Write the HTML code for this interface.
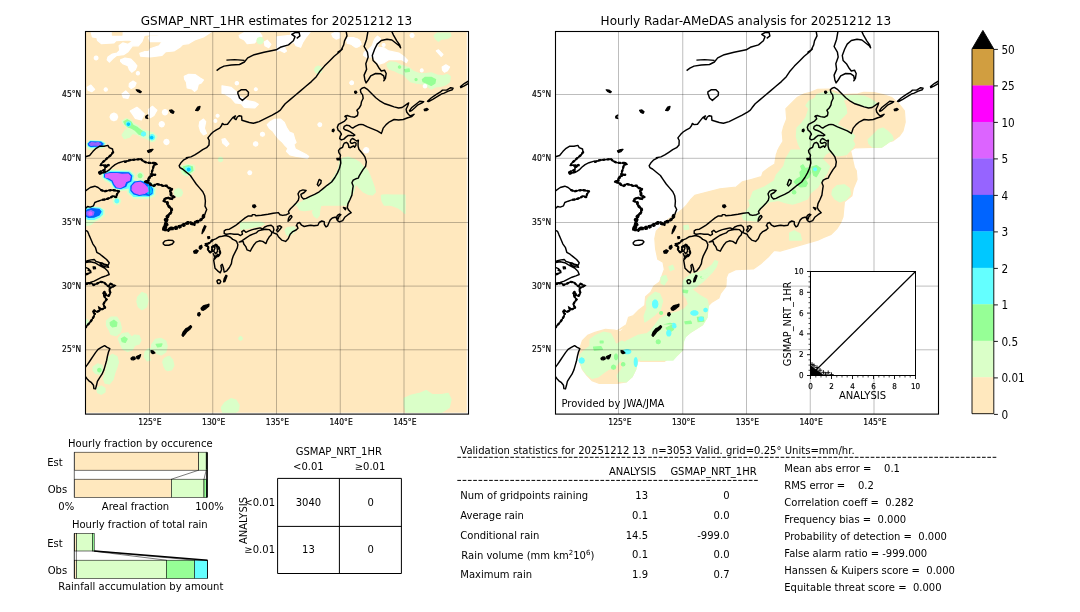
<!DOCTYPE html><html><head><meta charset="utf-8"><title>GSMAP_NRT_1HR validation 20251212 13</title>
<style>html,body{margin:0;padding:0;background:#fff}svg{display:block}text{font-family:'DejaVu Sans','Liberation Sans',sans-serif;fill:#000;white-space:pre}</style></head><body>
<svg width="1080" height="612" viewBox="0 0 1080 612">
<rect width="1080" height="612" fill="#fff"/>
<defs><g id="cst"><path d="M686.6,70.7 689.9,68.2 694.0,66.1 701.3,65.0 709.5,64.5 714.4,62.0 717.7,57.9 724.2,54.7 734.0,52.2 746.2,49.8 750.3,47.3 758.5,44.9 763.4,40.8 765.0,36.7 761.8,34.3 765.0,32.6 769.1,32.6 769.9,35.9 766.7,38.3M696.4,60.1 704.6,59.6 714.4,60.4M707.9,91.8 711.1,89.8 716.0,89.8 718.5,92.2 718.2,95.5 715.2,98.0 712.4,100.4 709.5,98.0 708.7,95.5 707.9,93.9ZM837.9,31.7 836.6,39.2 834.1,46.5 837.4,52.2 838.2,57.1 835.8,63.7 836.6,69.4 834.1,75.1 834.9,80.0 836.1,82.9 838.2,80.0 840.7,75.9 845.6,73.5 850.8,73.8 853.7,75.9 854.5,80.0 853.7,80.8 855.4,78.4 856.2,73.5 854.5,70.2 851.3,71.0 848.8,67.7 846.4,63.7 843.1,60.4 842.3,55.5 844.7,49.0 847.2,44.1 851.3,40.5 857.0,39.2 861.9,40.0 866.0,43.2 869.2,45.7 870.6,47.8 869.7,44.9 866.8,40.8 863.5,35.1 861.9,31.7M879.5,110.7 881.5,107.8 885.6,104.5 889.7,101.2 893.7,101.6 892.1,102.9 888.0,104.8 884.8,107.8 881.5,110.7 879.9,111.4ZM897.5,101.2 901.1,98.0 906.0,94.7 910.1,92.2 912.5,90.1 916.6,90.1 920.7,87.7 923.1,88.2 922.3,89.8 918.2,91.1 914.2,93.1 911.7,93.9 907.6,96.3 902.7,99.3 898.6,101.6ZM938.7,81.0 934.6,83.3 930.5,86.5 930.8,87.5 933.8,86.2 938.7,83.3M834.3,87.4 837.8,89.7 841.8,93.7 845.8,97.7 850.3,101.2 854.9,103.8 859.5,105.2 864.1,106.9 868.6,108.0 872.1,107.5 875.5,105.2 878.7,102.9 877.8,105.7 876.1,109.2 876.7,112.0 878.4,114.3 880.1,116.0 884.1,114.3 881.8,116.6 877.8,117.8 873.2,119.5 868.6,120.0 864.1,119.5 859.5,121.8 856.1,124.6 853.2,128.1 852.1,131.5 851.3,133.4 851.4,133.4 847.3,130.9 842.4,128.9 837.5,126.9 833.4,124.8 831.0,124.4 828.5,124.8 825.3,126.4 822.8,128.1 821.2,127.3 819.1,125.6 816.7,125.2 814.2,126.4 813.6,128.5 815.0,129.7 817.5,130.5 820.3,131.8 823.2,133.8 824.8,135.0 823.2,135.9 821.2,135.4 818.3,135.4 815.9,137.1 813.8,139.1 811.4,139.9 809.7,138.7 810.1,136.7 811.4,134.2 810.1,131.8 808.1,130.1 807.3,127.3 808.5,124.4 811.4,122.8 814.6,121.1 816.7,118.7 815.4,115.8 814.9,116.6 817.2,115.5 820.6,116.6 824.6,117.2 827.5,115.5 828.0,112.6 826.9,110.3 829.2,108.0 830.9,105.2 831.5,101.7 833.2,98.3 832.6,94.9 830.9,92.6 830.3,89.7 832.0,88.2ZM789.2,179.4 791.2,180.7 790.8,183.3 788.6,185.9 787.3,184.6 788.2,182.0ZM761.1,215.4 762.0,216.9 759.8,219.9 758.1,221.2 758.5,218.6 759.4,216.7ZM747.4,226.4 750.0,225.8 751.7,227.0 750.0,229.2 747.8,231.9 746.5,230.3 748.2,228.3ZM709.2,242.1 711.8,240.8 715.8,238.1 719.7,235.5 722.9,234.2 726.2,232.9 728.2,230.9 731.4,230.0 735.4,229.2 739.3,229.6 741.9,232.3 741.2,234.9 739.3,236.8 737.3,240.1 736.0,243.6 732.7,241.4 729.5,240.8 726.2,242.1 723.6,245.3 721.6,248.6 720.3,251.2 717.1,249.9 715.8,246.6 713.8,244.0 713.1,241.4ZM695.5,235.5 692.2,236.2 689.0,236.8 685.7,238.8 682.4,240.1 679.8,242.7 677.2,244.0 675.9,245.3 678.5,246.6 677.8,249.9 680.5,252.5 682.4,251.2 681.8,247.3 685.7,244.7 688.3,246.6 689.6,249.9 690.3,253.8 687.6,256.4 685.0,257.7 683.7,260.4 684.4,264.3 685.0,268.2 687.6,270.8 690.3,272.8 691.6,269.5 690.9,265.6 692.2,264.3 693.5,268.2 694.2,272.1 696.8,270.8 699.4,267.5 701.4,263.6 702.0,259.7 703.3,255.8 705.3,251.9 707.3,247.9 707.9,244.7 706.6,241.4 704.6,240.1 702.7,239.4 700.7,237.5 698.1,236.2ZM683.1,245.3 685.0,247.9 683.7,251.2 685.7,253.8 687.6,251.2 687.0,247.3 685.4,246.0M683.1,253.2 684.4,256.4 686.3,255.8 688.3,253.8M633.2,242.7 634.9,240.9 638.8,240.1 642.7,240.5 644.0,241.9 642.3,244.0 638.8,245.3 634.9,245.3 633.3,244.0ZM686.9,281.0 688.1,279.7 689.9,280.0 690.8,281.7 689.8,283.4 687.8,283.4ZM570.0,263.4 573.3,264.1 577.9,266.0 578.5,267.3 575.9,266.9 572.0,265.4ZM555.5,267.3 558.3,268.6 560.9,271.2 559.6,273.2 557.0,274.5 555.5,274.8M557.6,270.0 560.2,271.0 560.9,272.6 558.3,273.3 555.5,273.9M816.2,31.7 817.0,35.9 814.5,40.8 813.7,44.9 811.3,49.8 808.0,52.2 812.4,49.0 809.1,52.2 804.2,56.3 799.3,61.2 794.4,66.1 789.5,71.8 786.3,76.7 781.4,81.6 775.6,86.5 769.9,91.4 765.0,95.5 760.1,99.6 755.2,103.7 752.0,107.8 750.3,110.2 747.9,111.8 742.2,115.1 735.6,118.4 729.1,121.6 723.4,123.3 719.3,122.5 715.2,121.2 711.9,120.3 711.6,116.3 709.3,115.7 707.3,117.0 706.0,119.6 704.1,118.3 705.4,115.9 702.7,117.6 700.1,120.9 697.5,124.2 694.2,124.6 692.3,123.5 691.6,125.5 689.7,128.1 686.4,129.8 683.1,132.0 680.5,134.6 677.9,137.9 679.2,140.5 679.0,145.1 676.6,147.7 672.7,149.7 668.8,152.3 664.8,154.9 660.9,156.9 656.3,157.8 657.7,157.8 653.8,159.8 651.2,162.4 649.2,165.7 649.9,167.6 652.5,169.0 656.4,172.2 660.4,175.5 663.0,179.4 666.2,184.0 669.5,187.9 672.8,191.8 674.7,195.8 675.4,201.0 675.0,206.2 676.7,209.5 675.4,212.7 674.1,216.7 671.5,219.9 668.2,221.2 664.9,221.9 664.9,221.5 664.3,224.2 661.7,222.8 657.7,222.2 654.5,224.2 651.2,225.5 647.3,227.4 643.4,228.1 640.1,227.4 638.1,230.0 634.9,228.7 632.9,229.4 634.2,226.1 635.5,222.8 634.9,227.8 636.8,225.2 635.5,222.5 636.8,219.3 637.5,216.0 639.4,214.1 641.4,210.8 640.8,208.2 638.1,206.2 636.8,202.3 633.6,201.0 634.2,199.0 637.5,197.7 641.4,199.0 643.4,197.1 640.8,195.1 640.1,191.2 641.4,188.6 638.1,187.9 636.2,185.6 632.9,185.9 629.6,184.6 626.4,184.2 623.1,185.9 620.5,184.6 618.5,182.7 614.6,181.8 617.9,180.7 619.2,176.8 622.5,175.5 625.7,174.6 621.1,174.2 621.8,172.2 623.1,168.3 623.8,165.0 626.4,164.1 625.7,162.8 621.1,163.1 615.9,162.4 613.3,161.1 610.7,158.9 608.1,159.4 602.8,159.8 598.9,160.5 595.0,161.8 594.2,161.1 589.0,162.7 585.1,164.6 581.8,167.3 579.2,169.9 576.6,171.6 573.3,172.5 569.4,173.8 568.7,172.5 571.3,171.2 574.6,169.9 575.3,167.3 579.2,165.0 574.6,165.6 570.9,165.0 572.0,162.7 574.6,160.7 577.2,158.1 580.5,155.5 583.1,152.2 582.5,149.0 579.2,147.6 577.9,145.4 574.0,146.3 569.4,146.3 566.1,148.3 562.8,151.6 559.6,155.5 555.5,156.8M555.5,190.8 560.2,187.5 564.8,186.2 568.1,187.5 571.3,190.1 574.6,191.4 578.5,190.4 582.5,190.1 587.0,190.8 589.0,191.4 587.0,194.1 586.4,197.3 583.1,196.0 579.8,198.0 575.9,199.3 572.0,199.9 568.1,201.2 564.8,202.5 563.5,205.8 560.2,207.1 557.6,206.5 555.5,208.4M555.5,230.3 557.6,231.4 558.9,234.6 560.9,239.2 562.8,243.8 565.5,247.7 566.8,252.3 570.0,254.2 573.3,256.9 576.6,259.5 579.2,262.7 578.3,265.1 574.6,264.3 572.0,263.0 569.4,262.5 566.1,261.4 564.2,259.5 560.9,259.9 557.6,260.8 555.5,261.4M555.5,262.5 560.2,261.7 564.8,262.7 568.1,264.7 570.7,266.0 574.6,268.0 577.9,271.2 579.2,274.5 575.9,275.9 572.0,277.2 568.1,279.2 564.2,281.1 560.2,282.4 555.5,283.1M555.5,284.1 561.5,283.1 563.5,285.0 566.8,283.7 570.7,281.8 574.0,282.4 576.6,285.0 578.5,286.3 580.5,283.7 584.4,285.7 582.5,287.0 580.5,287.6 579.2,289.6 580.5,292.9 578.5,296.1 575.9,294.8 574.6,291.6 573.3,293.5 574.6,296.8 576.6,299.4 574.6,302.0 573.3,304.6 575.3,307.9 572.0,309.2 569.4,307.9 570.0,310.5 566.8,311.8 564.2,310.5 562.8,311.8 564.8,313.8 563.5,317.1 561.5,320.3 559.6,322.9 557.6,324.9 555.5,327.5M555.5,367.0 557.6,364.4 560.2,360.5 562.8,356.6 565.5,352.6 568.1,349.4 571.3,347.4 574.6,345.7 577.2,347.4 579.8,348.7 578.5,352.0 577.5,355.9 576.6,360.5 575.3,365.1 574.0,369.6 572.0,374.2 569.4,378.1 567.4,381.4 566.5,385.3 565.5,388.9 563.9,388.6 563.5,385.3 561.5,382.7 558.9,380.8 557.0,378.8 555.5,376.8M810.4,159.8 807.3,159.8 806.9,158.5 810.1,158.3 810.1,157.5 810.5,155.1 808.9,152.6 808.5,150.6 810.1,148.5 812.6,147.3 813.4,144.8 814.2,143.2 816.4,142.4 817.9,143.6 818.7,145.7 818.9,147.3 820.3,147.7 822.4,146.5 823.8,145.9 824.6,147.3 825.9,145.4 826.1,143.2 824.6,142.4 822.8,143.2 821.0,143.2 820.2,141.6 821.0,139.5 822.4,138.5 824.4,139.5 826.5,141.0 828.4,140.2 828.1,142.8 828.1,146.1 828.9,149.3 831.0,151.8 833.0,154.2 835.0,157.2 836.3,161.8 835.6,166.3 833.0,169.6 831.0,172.9 829.1,176.1 828.4,178.1 825.8,178.8 823.2,180.1 821.9,182.7 823.2,185.9 822.5,190.5 821.9,195.1 819.9,199.7 818.0,203.6 817.3,207.5 818.6,210.1 821.2,212.7 818.0,214.7 814.7,217.3 812.7,220.6 809.5,221.9 807.5,220.6 806.2,218.0 807.5,215.4 809.5,214.1 810.8,214.7 808.8,216.7 808.2,219.0 806.5,217.3 804.9,217.3 802.3,218.0 800.3,219.9 799.0,222.5 797.7,225.8 796.0,226.9 794.4,224.5 794.2,221.6 791.8,221.0 789.2,222.5 787.9,225.2 784.0,225.8 780.7,225.2 777.5,225.8 774.2,226.5 771.6,225.2 769.6,222.5 767.6,223.2 766.3,225.8 766.7,225.1 768.0,228.3 766.1,230.0 762.8,231.6 760.2,234.2 758.2,238.8 755.6,241.4 751.7,240.1 748.4,236.8 747.1,234.2 742.9,232.6 743.9,229.6 743.2,227.0 741.2,225.3 738.0,225.7 734.7,227.0 732.7,229.0 730.1,227.9 726.2,228.7 722.3,229.6 719.0,230.9 715.8,232.3 713.8,230.3 711.8,231.6 712.5,234.2 710.5,235.5 707.9,234.2 704.0,234.2 700.1,233.6 696.8,234.2 694.2,233.6 694.2,230.9 696.1,229.6 699.4,229.2 702.0,227.7 705.3,225.7 708.6,223.1 711.8,220.5 715.1,217.9 718.4,215.9 722.0,215.9 722.3,214.6 724.9,214.6 725.6,215.7 731.4,215.3 738.0,214.3 743.2,213.3 748.4,212.6 750.0,214.7 752.6,215.4 756.5,214.7 759.2,213.4 758.5,211.4 760.5,208.8 763.1,206.2 765.7,203.6 768.3,200.3 769.0,197.1 768.0,193.8 769.6,191.2 772.9,189.9 776.1,190.5 774.2,192.5 770.9,194.4 771.6,197.1 773.5,199.0 776.1,198.4 780.1,196.4 784.6,194.4 789.2,191.8 793.1,188.6 797.1,185.3 801.6,182.0 804.9,177.5 807.5,172.9 809.5,168.3 810.8,163.1 810.4,158.5Z" fill="none" stroke="#000" stroke-width="1.45" stroke-linejoin="round"/><path d="M606.3,89.8 608.9,90.1 611.3,91.8 610.2,92.7 607.6,91.4ZM617.7,115.1 615.8,116.3 615.8,117.9 617.7,118.5 616.7,116.9ZM639.6,110.4 641.9,110.0 644.0,111.7 643.2,113.3 640.9,112.3ZM665.7,110.4 667.7,107.1 670.0,106.5 669.3,109.1 667.7,110.7ZM894.2,109.4 897.0,108.4 898.2,109.4 896.2,110.7 894.6,110.7ZM824.7,91.4 826.0,91.1 826.8,92.4 825.6,93.4 824.7,92.7ZM802.5,129.6 803.8,129.1 804.2,130.5 803.2,131.8 802.2,131.2ZM813.4,207.5 816.0,208.2 815.4,209.9ZM722.9,205.2 724.9,204.8 725.9,206.5 724.2,207.8 722.7,206.8ZM674.6,225.7 675.9,226.4 673.9,230.9 672.0,233.6 672.6,230.3 673.7,227.7ZM677.6,236.8 679.4,236.6 679.7,238.1 678.1,238.7ZM670.0,246.6 671.3,247.0 671.0,248.9 670.0,249.2ZM675.2,243.6 676.8,243.4 677.2,244.9 675.8,245.5ZM663.6,251.3 666.2,249.8 668.2,250.9 666.6,253.2 664.3,253.2ZM669.5,246.4 671.5,245.3 672.1,247.4 670.6,249.2 669.2,248.3ZM617.5,150.9 620.4,149.6 623.0,149.3 621.0,151.6 618.4,152.5ZM563.1,266.9 565.2,266.9 565.5,268.6 563.5,268.8ZM601.0,358.3 602.7,357.0 604.9,357.2 605.3,358.8 603.4,359.8 601.4,359.6ZM606.6,356.6 608.6,355.7 610.6,354.6 609.9,357.0 608.9,358.8 607.0,358.5ZM621.0,350.7 623.0,350.9 624.9,353.0 623.0,353.6 621.4,352.6ZM695.9,275.2 697.0,275.9 694.9,281.5 693.6,281.8 694.1,278.9ZM671.1,308.2 673.3,305.9 676.6,305.0 679.0,304.2 678.7,306.3 675.9,308.6 673.3,310.3 671.6,309.9ZM668.0,313.1 669.5,312.6 670.3,314.4 669.0,316.0 667.7,315.1ZM652.0,335.1 653.1,332.1 655.7,328.8 658.3,327.5 660.7,325.6 661.6,326.9 659.6,329.5 657.0,331.4 655.0,334.1 653.1,336.4Z" fill="#000" stroke="#000" stroke-width="1.3" stroke-linejoin="round"/><path d="M682.4,240.1 679.8,242.7 677.2,244.0 675.9,245.3 678.5,246.6 677.8,249.9 680.5,252.5 682.4,251.2 681.8,247.3 685.7,244.7 688.3,246.6 689.6,249.9 690.3,253.8 687.6,256.4 685.0,257.7 683.7,260.4M668.2,222.1 664.9,222.7 664.3,225.4 661.7,224.0 657.7,223.4 654.5,225.4 651.2,226.7 647.3,228.6 643.4,229.3 640.1,228.6 638.1,231.2 634.9,229.9 632.9,230.6 634.2,227.3 635.5,224.0M620.0,176.8 618.7,180.7 615.4,181.8 619.3,182.7 621.3,184.6 623.9,185.9 627.2,184.2 630.4,184.6 633.7,185.9 637.0,185.6 638.9,187.9 642.2,188.6 640.9,191.2 641.6,195.1 644.2,197.1 642.2,199.0 638.3,197.7 635.0,199.0 634.4,201.0 637.6,202.3 638.9,206.2 641.6,208.2 642.2,210.8 640.2,214.1 638.3,216.0 637.6,219.3 636.3,222.5 637.6,225.2 635.7,227.8 635.0,230.0M595.0,161.8 598.9,160.5 602.8,159.8 608.1,159.4 610.7,158.9 613.3,161.1 615.9,162.4 621.1,163.1 625.7,162.8 626.4,164.1 623.8,165.0 623.1,168.3 621.8,172.2 621.1,174.2 625.7,174.6 622.5,175.5 619.2,176.8 617.9,180.7 614.6,181.8 618.5,182.7 620.5,184.6 623.1,185.9 626.4,184.2 629.6,184.6 632.9,185.9 636.2,185.6 638.1,187.9 641.4,188.6 640.1,191.2 640.8,195.1 643.4,197.1 641.4,199.0 637.5,197.7 634.2,199.0 633.6,201.0 636.8,202.3 638.1,206.2 640.8,208.2 641.4,210.8 639.4,214.1 637.5,216.0 636.8,219.3 635.5,222.5 636.8,225.2 634.9,227.8 634.2,230.0M673.4,215.0 671.5,218.9 668.2,220.9 664.9,221.5 664.3,224.2 661.7,222.8 657.7,222.2 654.5,224.2 651.2,225.5 647.3,227.4 643.4,228.1 640.1,227.4 638.1,230.0 634.9,228.7 632.9,229.4 634.2,226.1 635.5,222.8 634.9,219.6 636.8,216.3 638.1,215.0M555.5,284.1 561.5,283.1 563.5,285.0 566.8,283.7 570.7,281.8 574.0,282.4 576.6,285.0 578.5,286.3 580.5,283.7 584.4,285.7 582.5,287.0 580.5,287.6 579.2,289.6 580.5,292.9 578.5,296.1 575.9,294.8 574.6,291.6 573.3,293.5 574.6,296.8 576.6,299.4 574.6,302.0 573.3,304.6 575.3,307.9 572.0,309.2 569.4,307.9 570.0,310.5 566.8,311.8 564.2,310.5 562.8,311.8 564.8,313.8 563.5,317.1 561.5,320.3 559.6,322.9 557.6,324.9 555.5,327.5M583.1,152.2 580.5,155.5 577.2,158.1 574.6,160.7 572.0,162.7 570.9,165.0 574.6,165.6 579.2,165.0 575.3,167.3 574.6,169.9 571.3,171.2 568.7,172.5 569.4,173.8 573.3,172.5 576.6,171.6M571.3,190.1 574.6,191.4 578.5,190.4 582.5,190.1 587.0,190.8 589.0,191.4 587.0,194.1 586.4,197.3 583.1,196.0 579.8,198.0 575.9,199.3 572.0,199.9M674.1,216.7 671.5,219.9 668.2,221.2 664.9,221.9 664.3,224.5 662.3,223.2 659.1,221.9 655.8,223.2 652.5,224.5 649.9,225.8 646.6,226.5 644.0,227.8 641.4,229.1 639.4,230.0" fill="none" stroke="#000" stroke-width="2.3" stroke-dasharray="1.4 2.8" stroke-linecap="round"/></g>
<clipPath id="clL"><rect x="85.5" y="31.5" width="383" height="382.6"/></clipPath><clipPath id="fL"><rect x="86" y="32" width="380.8" height="380.7"/></clipPath>
<clipPath id="clR"><rect x="555.5" y="31.5" width="383" height="382.6"/></clipPath><clipPath id="fR"><rect x="556" y="32" width="380.8" height="380.7"/></clipPath>
</defs>
<g clip-path="url(#clL)">
<g clip-path="url(#fL)"><rect x="85.5" y="31.4" width="382" height="381.8" fill="#FFE8BE"/><path d="M90.9,31.0 212.4,31.0 203.5,36.9 194.6,39.9 188.7,43.6 182.8,44.3 179.8,47.3 173.9,51.0 165.7,51.7 162.0,55.4 150.2,56.9 140.6,56.2 139.8,53.2 144.3,51.7 148.7,51.7 150.2,48.8 159.1,45.8 162.0,42.1 159.1,41.4 150.2,41.7 148.7,37.7 150.2,36.3 158.3,36.3 158.3,34.9 150.2,34.9 148.7,34.7 144.3,35.4 142.0,41.4 138.3,45.8 132.4,45.8 128.0,51.7 123.5,54.7 116.9,55.4 113.1,58.4 109.4,62.1 107.2,59.9 108.0,56.9 112.4,54.0 116.9,53.2 119.8,50.3 119.1,45.8 122.8,42.9 128.0,44.3 132.4,41.4 129.4,39.9 116.1,40.6 113.9,42.9 101.3,43.6 97.6,40.6 96.9,37.7 92.4,36.9Z" fill="#fff" stroke="#fff" stroke-width="1.2" stroke-linejoin="round"/><path d="M112.4,31.0 122.0,31.0 122.0,35.1 112.4,35.1Z" fill="#FFE8BE" stroke="#FFE8BE" stroke-width="1.2" stroke-linejoin="round"/><path d="M120.6,59.9 125.0,58.1 130.9,59.1 134.6,62.9 136.9,65.8 135.4,69.5 131.7,72.2 129.4,69.5 128.0,65.8 122.8,63.6 120.6,61.4Z" fill="#fff" stroke="#fff" stroke-width="1.2" stroke-linejoin="round"/><path d="M98.0,58.0 97.5,59.3 96.1,59.9 94.7,59.3 94.2,58.0 94.7,56.6 96.1,56.0 97.5,56.6Z" fill="#fff" stroke="#fff" stroke-width="1.2" stroke-linejoin="round"/><path d="M139.5,73.2 139.0,74.4 137.9,74.9 136.7,74.4 136.3,73.2 136.7,72.1 137.9,71.6 139.0,72.1Z" fill="#fff" stroke="#fff" stroke-width="1.2" stroke-linejoin="round"/><path d="M129.4,83.6 133.1,81.1 136.1,82.9 134.6,86.6 131.2,88.5 129.1,86.6Z" fill="#fff" stroke="#fff" stroke-width="1.2" stroke-linejoin="round"/><path d="M87.2,87.3 90.9,85.1 94.6,89.5 91.7,91.7 88.0,90.3Z" fill="#fff" stroke="#fff" stroke-width="1.2" stroke-linejoin="round"/><path d="M107.4,89.5 106.9,90.7 105.7,91.1 104.6,90.7 104.1,89.5 104.6,88.4 105.7,87.9 106.9,88.4Z" fill="#fff" stroke="#fff" stroke-width="1.2" stroke-linejoin="round"/><path d="M122.0,94.0 125.7,91.0 129.4,94.7 128.0,98.4 123.5,97.7Z" fill="#fff" stroke="#fff" stroke-width="1.2" stroke-linejoin="round"/><path d="M184.3,76.2 188.7,74.3 195.4,74.7 199.8,77.7 203.5,79.9 201.3,82.9 198.3,84.3 196.9,89.5 194.6,91.4 191.7,88.8 187.2,88.0 186.5,82.1 184.6,79.1Z" fill="#fff" stroke="#fff" stroke-width="1.2" stroke-linejoin="round"/><path d="M238.5,83.1 238.0,84.3 236.9,84.8 235.7,84.3 235.2,83.1 235.7,82.0 236.9,81.5 238.0,82.0Z" fill="#fff" stroke="#fff" stroke-width="1.2" stroke-linejoin="round"/><path d="M117.7,116.9 116.6,119.6 113.9,120.8 111.2,119.6 110.0,116.9 111.2,114.2 113.9,113.1 116.6,114.2Z" fill="#fff" stroke="#fff" stroke-width="1.2" stroke-linejoin="round"/><path d="M130.2,111.0 136.9,107.3 140.6,110.3 144.3,114.0 141.3,119.9 135.4,118.4 132.4,114.0Z" fill="#fff" stroke="#fff" stroke-width="1.2" stroke-linejoin="round"/><path d="M148.7,109.5 152.4,106.3 156.9,110.3 153.9,115.4 150.2,117.7 148.7,114.0Z" fill="#fff" stroke="#fff" stroke-width="1.2" stroke-linejoin="round"/><path d="M167.7,112.2 166.9,114.1 165.0,114.9 163.1,114.1 162.3,112.2 163.1,110.3 165.0,109.5 166.9,110.3Z" fill="#fff" stroke="#fff" stroke-width="1.2" stroke-linejoin="round"/><path d="M239.1,35.4 244.3,32.5 259.8,32.8 262.0,36.2 258.3,38.4 254.6,42.9 247.2,43.6 244.3,39.9 239.8,37.7Z" fill="#fff" stroke="#fff" stroke-width="1.2" stroke-linejoin="round"/><path d="M263.4,40.6 262.4,42.9 260.1,43.9 257.8,42.9 256.9,40.6 257.8,38.3 260.1,37.4 262.4,38.3Z" fill="#DAFFC8" stroke="#DAFFC8" stroke-width="1.2" stroke-linejoin="round"/><path d="M264.3,42.1 267.2,40.2 270.9,44.3 268.7,47.6 265.0,45.8Z" fill="#fff" stroke="#fff" stroke-width="1.2" stroke-linejoin="round"/><path d="M276.9,36.9 290.2,35.4 291.7,31.0 310.9,31.0 305.7,37.7 302.8,42.1 300.6,47.3 296.1,45.8 293.9,42.1 290.2,43.6 284.3,47.3 286.5,51.0 284.3,52.5 279.8,50.3 276.9,51.0 276.9,45.8Z" fill="#fff" stroke="#fff" stroke-width="1.2" stroke-linejoin="round"/><path d="M331.7,34.0 335.4,32.2 339.8,33.2 339.8,37.7 336.1,39.1 333.1,36.9Z" fill="#fff" stroke="#fff" stroke-width="1.2" stroke-linejoin="round"/><path d="M348.0,37.7 353.9,37.7 359.1,39.9 361.3,44.3 356.9,47.3 352.4,45.1 348.0,42.1Z" fill="#fff" stroke="#fff" stroke-width="1.2" stroke-linejoin="round"/><path d="M364.3,53.2 367.2,50.3 370.9,51.7 368.7,56.9 365.0,56.2Z" fill="#fff" stroke="#fff" stroke-width="1.2" stroke-linejoin="round"/><path d="M322.0,69.8 321.0,72.4 318.3,73.5 315.7,72.4 314.6,69.8 315.7,67.2 318.3,66.1 321.0,67.2Z" fill="#DAFFC8" stroke="#DAFFC8" stroke-width="1.2" stroke-linejoin="round"/><path d="M238.3,83.3 237.9,84.3 236.9,84.8 235.8,84.3 235.4,83.3 235.8,82.2 236.9,81.8 237.9,82.2Z" fill="#fff" stroke="#fff" stroke-width="1.2" stroke-linejoin="round"/><path d="M257.3,89.2 256.9,90.3 255.8,90.7 254.8,90.3 254.3,89.2 254.8,88.2 255.8,87.7 256.9,88.2Z" fill="#fff" stroke="#fff" stroke-width="1.2" stroke-linejoin="round"/><path d="M353.4,82.9 352.9,84.1 351.7,84.6 350.4,84.1 349.9,82.9 350.4,81.6 351.7,81.1 352.9,81.6Z" fill="#fff" stroke="#fff" stroke-width="1.2" stroke-linejoin="round"/><path d="M222.0,85.8 230.9,87.3 236.1,91.7 239.1,96.2 247.2,100.6 254.6,102.1 258.3,104.3 254.6,108.0 244.3,107.3 241.3,103.6 235.4,102.9 230.9,97.7 225.0,94.0 222.0,93.2Z" fill="#fff" stroke="#fff" stroke-width="1.2" stroke-linejoin="round"/><path d="M346.6,39.8 349.6,37.6 357.6,39.1 360.6,42.0 359.1,46.4 355.4,47.2 351.8,44.2 347.4,43.5Z" fill="#fff" stroke="#fff" stroke-width="1.2" stroke-linejoin="round"/><path d="M375.3,38.4 377.5,36.1 380.4,38.4 379.0,43.5 376.8,47.2 384.1,47.9 388.5,50.9 398.8,53.1 404.0,56.7 407.6,60.4 406.2,62.6 401.8,59.7 388.5,59.7 384.1,62.6 379.0,64.1 375.3,60.4 372.4,56.7 367.2,57.5 363.5,55.3 364.3,52.3 368.7,49.4 372.4,45.7 373.8,41.3Z" fill="#fff" stroke="#fff" stroke-width="1.2" stroke-linejoin="round"/><path d="M385.1,45.0 384.7,46.0 383.7,46.4 382.6,46.0 382.2,45.0 382.6,43.9 383.7,43.5 384.7,43.9Z" fill="#fff" stroke="#fff" stroke-width="1.2" stroke-linejoin="round"/><path d="M414.1,35.4 413.5,36.9 412.1,37.5 410.6,36.9 410.0,35.4 410.6,34.0 412.1,33.4 413.5,34.0Z" fill="#fff" stroke="#fff" stroke-width="1.2" stroke-linejoin="round"/><path d="M436.3,50.9 438.5,49.8 442.9,54.5 441.2,56.3Z" fill="#fff" stroke="#fff" stroke-width="1.2" stroke-linejoin="round"/><path d="M442.2,67.0 445.9,64.8 449.6,67.0 447.4,70.7 444.4,72.2 442.5,70.0Z" fill="#fff" stroke="#fff" stroke-width="1.2" stroke-linejoin="round"/><path d="M423.2,70.4 422.8,71.5 421.8,71.9 420.7,71.5 420.3,70.4 420.7,69.4 421.8,68.9 422.8,69.4Z" fill="#fff" stroke="#fff" stroke-width="1.2" stroke-linejoin="round"/><path d="M353.5,82.8 353.0,84.0 351.8,84.5 350.5,84.0 350.0,82.8 350.5,81.5 351.8,81.0 353.0,81.5Z" fill="#fff" stroke="#fff" stroke-width="1.2" stroke-linejoin="round"/><path d="M387.1,64.1 390.7,61.9 395.9,62.6 400.3,64.8 404.7,66.3 409.1,67.8 413.5,71.4 419.4,73.6 425.3,73.6 431.2,72.9 437.1,75.1 442.9,75.9 447.4,74.4 450.3,76.6 449.6,81.7 445.9,84.7 441.5,86.1 435.6,86.9 431.2,89.1 426.8,86.1 422.4,83.9 416.5,83.2 410.6,81.7 406.9,78.1 403.2,74.4 398.8,72.9 394.4,70.7 389.3,69.2 387.4,66.3Z" fill="#DAFFC8" stroke="#DAFFC8" stroke-width="1.2" stroke-linejoin="round"/><path d="M422.4,79.5 425.3,77.3 431.2,77.3 435.6,79.5 434.9,83.2 431.2,85.4 426.8,83.2 423.1,81.7Z" fill="#96FF96" stroke="#96FF96" stroke-width="1.2" stroke-linejoin="round"/><path d="M404.7,69.5 409.1,68.9 409.4,71.4 405.4,71.9Z" fill="#96FF96" stroke="#96FF96" stroke-width="1.2" stroke-linejoin="round"/><path d="M400.7,67.0 400.4,67.9 399.6,68.2 398.7,67.9 398.4,67.0 398.7,66.2 399.6,65.9 400.4,66.2Z" fill="#96FF96" stroke="#96FF96" stroke-width="1.2" stroke-linejoin="round"/><path d="M417.1,79.5 416.8,80.3 416.0,80.6 415.3,80.3 415.0,79.5 415.3,78.8 416.0,78.5 416.8,78.8Z" fill="#96FF96" stroke="#96FF96" stroke-width="1.2" stroke-linejoin="round"/><path d="M426.8,86.1 426.2,87.4 425.0,87.9 423.8,87.4 423.2,86.1 423.8,84.9 425.0,84.4 426.2,84.9Z" fill="#fff" stroke="#fff" stroke-width="1.2" stroke-linejoin="round"/><path d="M434.1,35.4 437.1,33.2 450.3,33.2 451.0,36.1 447.4,38.4 441.5,39.1 438.5,41.3 435.6,39.1Z" fill="#DAFFC8" stroke="#DAFFC8" stroke-width="1.2" stroke-linejoin="round"/><path d="M164.4,124.2 163.6,126.1 161.7,126.9 159.9,126.1 159.1,124.2 159.9,122.3 161.7,121.5 163.6,122.3Z" fill="#fff" stroke="#fff" stroke-width="1.2" stroke-linejoin="round"/><path d="M169.1,142.0 168.4,143.8 166.5,144.6 164.6,143.8 163.8,142.0 164.6,140.1 166.5,139.3 168.4,140.1Z" fill="#fff" stroke="#fff" stroke-width="1.2" stroke-linejoin="round"/><path d="M199.8,121.7 203.5,119.1 205.7,121.7 204.3,128.3 206.5,133.5 203.5,135.0 200.6,131.3 199.1,126.1Z" fill="#fff" stroke="#fff" stroke-width="1.2" stroke-linejoin="round"/><path d="M222.0,139.4 225.0,138.7 229.0,143.9 226.5,146.4 222.8,143.1Z" fill="#fff" stroke="#fff" stroke-width="1.2" stroke-linejoin="round"/><path d="M216.9,120.9 216.4,122.0 215.4,122.4 214.3,122.0 213.9,120.9 214.3,119.9 215.4,119.4 216.4,119.9Z" fill="#fff" stroke="#fff" stroke-width="1.2" stroke-linejoin="round"/><path d="M219.1,115.7 218.6,116.8 217.6,117.2 216.5,116.8 216.1,115.7 216.5,114.7 217.6,114.3 218.6,114.7Z" fill="#fff" stroke="#fff" stroke-width="1.2" stroke-linejoin="round"/><path d="M122.0,120.9 125.7,118.7 130.9,120.2 133.9,123.9 138.3,126.1 142.0,129.8 147.2,131.3 153.1,132.8 156.9,136.5 154.6,140.9 150.9,141.7 147.2,138.7 142.0,137.2 136.9,134.3 132.4,133.5 129.4,137.2 124.3,138.7 122.0,135.0 125.0,130.6 128.0,128.3 125.0,125.4 122.8,123.1Z" fill="#DAFFC8" stroke="#DAFFC8" stroke-width="1.2" stroke-linejoin="round"/><path d="M123.8,121.7 127.2,119.7 130.9,121.7 133.1,125.4 137.6,127.6 141.3,130.6 145.0,132.8 143.5,135.7 139.1,134.3 135.4,130.6 131.7,128.3 128.0,126.9 125.0,124.2Z" fill="#96FF96" stroke="#96FF96" stroke-width="1.2" stroke-linejoin="round"/><path d="M130.6,123.9 130.0,125.5 128.4,126.1 126.8,125.5 126.2,123.9 126.8,122.3 128.4,121.7 130.0,122.3Z" fill="#64FFFF" stroke="#64FFFF" stroke-width="1.2" stroke-linejoin="round"/><path d="M129.6,124.2 129.2,125.0 128.4,125.4 127.6,125.0 127.2,124.2 127.6,123.3 128.4,123.0 129.2,123.3Z" fill="#00C8FF" stroke="#00C8FF" stroke-width="1.2" stroke-linejoin="round"/><path d="M145.6,134.0 145.0,135.4 143.5,136.0 142.1,135.4 141.4,134.0 142.1,132.5 143.5,131.9 145.0,132.5Z" fill="#64FFFF" stroke="#64FFFF" stroke-width="1.2" stroke-linejoin="round"/><path d="M154.6,137.2 153.8,139.1 152.0,139.9 150.1,139.1 149.3,137.2 150.1,135.3 152.0,134.6 153.8,135.3Z" fill="#64FFFF" stroke="#64FFFF" stroke-width="1.2" stroke-linejoin="round"/><path d="M152.9,137.5 152.5,138.4 151.7,138.7 150.8,138.4 150.5,137.5 150.8,136.7 151.7,136.3 152.5,136.7Z" fill="#00C8FF" stroke="#00C8FF" stroke-width="1.2" stroke-linejoin="round"/><path d="M86.8,143.9 90.2,140.5 101.3,140.9 105.4,143.1 104.0,147.3 98.3,147.9 90.9,149.8 87.7,147.9Z" fill="#DAFFC8" stroke="#DAFFC8" stroke-width="1.2" stroke-linejoin="round"/><path d="M87.7,143.9 90.2,141.2 101.0,141.5 104.3,143.6 102.5,146.6 90.9,147.3 88.3,146.1Z" fill="#64FFFF" stroke="#64FFFF" stroke-width="1.2" stroke-linejoin="round"/><path d="M88.3,143.9 90.2,141.8 100.6,142.1 103.1,143.9 101.3,146.0 90.9,146.4 88.9,145.4Z" fill="#0064FF" stroke="#0064FF" stroke-width="1.2" stroke-linejoin="round"/><path d="M89.4,143.9 91.7,142.6 95.4,143.1 98.3,142.6 100.6,143.9 98.3,145.4 94.6,144.8 90.9,145.4Z" fill="#9664FF" stroke="#9664FF" stroke-width="1.2" stroke-linejoin="round"/><path d="M102.0,173.5 109.4,169.8 130.2,170.6 134.6,174.3 134.6,179.4 144.3,180.2 151.7,183.1 155.8,189.1 154.6,195.7 149.4,198.3 133.9,198.3 128.0,193.5 127.2,189.8 120.6,190.6 113.9,189.1 110.2,183.1 105.7,180.9 102.0,178.0Z" fill="#DAFFC8" stroke="#DAFFC8" stroke-width="1.2" stroke-linejoin="round"/><path d="M143.7,175.7 142.6,178.3 140.1,179.3 137.6,178.3 136.6,175.7 137.6,173.2 140.1,172.2 142.6,173.2Z" fill="#DAFFC8" stroke="#DAFFC8" stroke-width="1.2" stroke-linejoin="round"/><path d="M142.0,175.7 141.5,177.1 140.1,177.7 138.7,177.1 138.2,175.7 138.7,174.4 140.1,173.8 141.5,174.4Z" fill="#96FF96" stroke="#96FF96" stroke-width="1.2" stroke-linejoin="round"/><path d="M103.5,173.5 110.2,171.3 129.4,172.0 133.1,175.7 132.4,180.9 136.1,181.7 144.3,181.7 150.2,184.6 153.9,189.1 153.1,194.3 148.7,196.5 141.3,196.5 133.9,196.5 129.4,192.0 129.4,187.6 125.7,188.3 120.6,189.1 114.6,187.6 111.7,182.4 107.2,179.4 103.5,177.2Z" fill="#64FFFF" stroke="#64FFFF" stroke-width="1.2" stroke-linejoin="round"/><path d="M104.6,174.0 110.5,172.5 128.7,172.8 131.7,176.0 130.9,180.9 127.2,182.9 125.7,186.4 120.6,188.5 115.8,187.6 113.4,184.3 112.0,180.9 108.4,179.0 104.6,176.9Z" fill="#0064FF" stroke="#0064FF" stroke-width="1.2" stroke-linejoin="round"/><path d="M130.9,186.1 134.6,182.0 141.0,181.2 145.4,183.4 150.2,185.8 152.4,189.1 152.0,193.5 149.0,195.3 144.3,194.7 139.1,195.4 133.9,194.0 130.9,190.6Z" fill="#0064FF" stroke="#0064FF" stroke-width="1.2" stroke-linejoin="round"/><path d="M148.0,186.1 150.9,187.6 151.7,192.0 149.4,194.3 147.2,192.8Z" fill="#00C8FF" stroke="#00C8FF" stroke-width="1.2" stroke-linejoin="round"/><path d="M105.7,174.3 110.9,173.5 116.9,173.5 122.0,174.3 128.0,174.0 130.2,176.5 129.4,180.2 125.7,181.7 124.3,185.4 120.6,187.6 116.9,186.9 114.6,183.9 113.1,180.2 109.4,178.0 105.7,177.2Z" fill="#DC64FF" stroke="#DC64FF" stroke-width="1.2" stroke-linejoin="round"/><path d="M132.4,186.1 135.4,183.1 140.6,182.4 144.3,184.6 147.2,187.6 148.0,191.3 144.3,193.5 139.1,194.3 134.6,192.8 132.1,189.8Z" fill="#DC64FF" stroke="#DC64FF" stroke-width="1.2" stroke-linejoin="round"/><path d="M120.7,200.9 119.6,203.6 116.9,204.8 114.1,203.6 113.0,200.9 114.1,198.2 116.9,197.1 119.6,198.2Z" fill="#DAFFC8" stroke="#DAFFC8" stroke-width="1.2" stroke-linejoin="round"/><path d="M118.8,200.9 118.2,202.3 116.9,202.9 115.5,202.3 114.9,200.9 115.5,199.6 116.9,199.0 118.2,199.6Z" fill="#64FFFF" stroke="#64FFFF" stroke-width="1.2" stroke-linejoin="round"/><path d="M181.3,166.1 187.2,164.6 193.9,165.4 194.6,169.8 191.7,173.5 187.2,175.7 182.8,174.3 181.0,170.6Z" fill="#DAFFC8" stroke="#DAFFC8" stroke-width="1.2" stroke-linejoin="round"/><path d="M183.5,166.9 188.7,165.7 192.4,166.9 192.9,170.6 189.4,173.1 185.4,173.1 183.1,170.6Z" fill="#96FF96" stroke="#96FF96" stroke-width="1.2" stroke-linejoin="round"/><path d="M185.7,167.6 190.2,166.9 190.9,170.6 188.0,172.0 185.7,170.1Z" fill="#64FFFF" stroke="#64FFFF" stroke-width="1.2" stroke-linejoin="round"/><path d="M190.0,169.5 189.6,170.5 188.7,170.9 187.8,170.5 187.4,169.5 187.8,168.6 188.7,168.2 189.6,168.6Z" fill="#00C8FF" stroke="#00C8FF" stroke-width="1.2" stroke-linejoin="round"/><path d="M222.8,159.4 222.1,161.0 220.6,161.7 219.0,161.0 218.3,159.4 219.0,157.9 220.6,157.2 222.1,157.9Z" fill="#DAFFC8" stroke="#DAFFC8" stroke-width="1.2" stroke-linejoin="round"/><path d="M182.5,192.8 181.3,195.7 178.3,196.9 175.4,195.7 174.2,192.8 175.4,189.8 178.3,188.6 181.3,189.8Z" fill="#DAFFC8" stroke="#DAFFC8" stroke-width="1.2" stroke-linejoin="round"/><path d="M267.2,124.6 270.2,121.7 274.6,119.4 280.6,119.1 284.3,122.4 286.5,127.6 289.4,132.0 293.1,133.5 294.6,138.7 296.1,142.4 293.9,144.6 295.4,149.1 299.8,151.3 305.7,154.3 308.7,156.5 307.2,158.3 302.0,157.2 295.4,156.2 290.2,155.0 286.5,151.3 288.0,148.3 285.0,145.4 282.0,141.7 279.1,139.4 276.1,135.7 273.1,131.3 269.4,128.3Z" fill="#fff" stroke="#fff" stroke-width="1.2" stroke-linejoin="round"/><path d="M264.6,134.3 263.9,135.7 262.5,136.3 261.0,135.7 260.4,134.3 261.0,132.8 262.5,132.2 263.9,132.8Z" fill="#fff" stroke="#fff" stroke-width="1.2" stroke-linejoin="round"/><path d="M257.9,143.9 257.2,145.5 255.7,146.1 254.1,145.5 253.4,143.9 254.1,142.3 255.7,141.7 257.2,142.3Z" fill="#fff" stroke="#fff" stroke-width="1.2" stroke-linejoin="round"/><path d="M321.7,124.6 321.2,126.0 319.8,126.6 318.5,126.0 317.9,124.6 318.5,123.3 319.8,122.7 321.2,123.3Z" fill="#fff" stroke="#fff" stroke-width="1.2" stroke-linejoin="round"/><path d="M251.7,172.8 251.1,174.1 249.7,174.7 248.4,174.1 247.8,172.8 248.4,171.4 249.7,170.9 251.1,171.4Z" fill="#fff" stroke="#fff" stroke-width="1.2" stroke-linejoin="round"/><path d="M368.9,150.3 368.1,152.1 366.2,152.9 364.3,152.1 363.5,150.3 364.3,148.4 366.2,147.6 368.1,148.4Z" fill="#fff" stroke="#fff" stroke-width="1.2" stroke-linejoin="round"/><path d="M342.8,158.0 348.7,157.2 354.6,159.4 359.8,162.4 363.5,166.9 367.2,169.8 369.4,174.3 371.7,180.2 373.9,186.1 375.4,192.0 372.4,195.0 368.0,194.3 363.5,192.0 359.8,188.3 356.9,184.6 354.6,186.1 353.9,190.6 351.7,195.7 348.7,200.9 347.2,205.1 293.9,205.1 301.3,202.4 307.2,198.0 314.6,195.0 322.0,190.6 326.5,186.1 330.2,182.4 333.9,177.2 336.9,172.0 339.1,166.1 339.8,160.9Z" fill="#DAFFC8" stroke="#DAFFC8" stroke-width="1.2" stroke-linejoin="round"/><path d="M381.3,195.7 387.2,195.0 393.1,195.7 399.1,198.0 404.3,200.9 405.0,205.1 384.3,205.1 382.0,200.9Z" fill="#DAFFC8" stroke="#DAFFC8" stroke-width="1.2" stroke-linejoin="round"/><path d="M297.6,206.1 301.3,202.4 307.2,199.4 314.6,197.2 323.5,195.0 339.8,195.0 336.9,198.0 330.9,200.2 325.7,203.1 320.6,206.1 319.8,209.8 319.1,215.7 316.9,218.0 313.9,215.7 312.4,212.0 314.6,209.1 310.2,209.8 304.3,210.6 299.8,209.8Z" fill="#DAFFC8" stroke="#DAFFC8" stroke-width="1.2" stroke-linejoin="round"/><path d="M382.0,195.0 405.0,195.0 405.0,213.5 402.0,210.6 397.6,207.6 391.7,205.4 386.5,202.4 382.8,198.7Z" fill="#DAFFC8" stroke="#DAFFC8" stroke-width="1.2" stroke-linejoin="round"/><path d="M240.6,222.4 253.9,222.0 261.3,222.4 264.3,223.9 259.8,226.1 253.9,226.9 248.0,228.3 240.6,229.4Z" fill="#DAFFC8" stroke="#DAFFC8" stroke-width="1.2" stroke-linejoin="round"/><path d="M285.0,229.8 287.2,227.6 293.9,226.9 296.1,229.8 292.4,233.5 288.7,235.7 286.5,234.3Z" fill="#DAFFC8" stroke="#DAFFC8" stroke-width="1.2" stroke-linejoin="round"/><path d="M85.0,208.3 90.9,206.9 99.8,207.6 104.3,209.8 104.3,215.0 100.6,218.7 95.4,220.9 90.9,224.6 86.5,225.4 85.0,224.6Z" fill="#DAFFC8" stroke="#DAFFC8" stroke-width="1.2" stroke-linejoin="round"/><path d="M85.4,209.1 91.7,207.6 99.8,208.3 102.8,210.6 102.5,214.3 99.1,217.2 93.9,219.4 88.0,219.4 85.4,217.2Z" fill="#64FFFF" stroke="#64FFFF" stroke-width="1.2" stroke-linejoin="round"/><path d="M85.4,210.6 91.7,208.6 99.1,209.4 101.0,211.6 99.1,215.0 93.9,217.2 88.7,217.5 85.4,215.7Z" fill="#0064FF" stroke="#0064FF" stroke-width="1.2" stroke-linejoin="round"/><path d="M86.8,212.0 90.9,210.6 93.9,212.0 93.1,215.0 89.4,216.0 86.8,214.6Z" fill="#9664FF" stroke="#9664FF" stroke-width="1.2" stroke-linejoin="round"/><path d="M91.8,213.5 91.4,214.6 90.3,215.0 89.3,214.6 88.9,213.5 89.3,212.5 90.3,212.0 91.4,212.5Z" fill="#DC64FF" stroke="#DC64FF" stroke-width="1.2" stroke-linejoin="round"/><path d="M137.6,297.2 142.0,292.5 146.5,294.3 148.0,300.9 146.5,306.9 142.0,309.8 138.3,306.9 136.9,301.7Z" fill="#DAFFC8" stroke="#DAFFC8" stroke-width="1.2" stroke-linejoin="round"/><path d="M106.5,320.9 110.9,317.2 116.9,317.2 119.8,321.7 121.3,327.6 120.6,332.0 116.1,335.7 110.9,334.3 108.7,329.1 106.5,325.4Z" fill="#DAFFC8" stroke="#DAFFC8" stroke-width="1.2" stroke-linejoin="round"/><path d="M110.2,322.4 113.9,320.2 116.9,322.4 116.4,326.1 112.4,326.9 110.5,325.1Z" fill="#96FF96" stroke="#96FF96" stroke-width="1.2" stroke-linejoin="round"/><path d="M118.3,338.7 122.0,333.5 128.0,332.8 131.7,337.2 134.6,335.0 139.1,335.7 141.0,340.2 139.1,343.9 134.6,345.4 132.4,349.8 127.2,351.3 122.8,349.1 120.6,344.6Z" fill="#DAFFC8" stroke="#DAFFC8" stroke-width="1.2" stroke-linejoin="round"/><path d="M121.3,338.7 124.3,336.9 127.2,339.0 125.3,342.4 122.3,341.7Z" fill="#96FF96" stroke="#96FF96" stroke-width="1.2" stroke-linejoin="round"/><path d="M151.7,344.6 155.4,339.4 161.3,338.4 165.7,340.9 167.2,346.1 165.7,352.0 161.3,355.0 156.9,353.5 154.6,349.8 150.9,350.6 148.7,355.0 150.2,360.2 147.2,360.9 144.3,357.2 145.0,352.0 148.0,349.1 151.7,348.3Z" fill="#DAFFC8" stroke="#DAFFC8" stroke-width="1.2" stroke-linejoin="round"/><path d="M156.1,344.3 162.0,343.9 160.9,346.4 157.6,346.9Z" fill="#96FF96" stroke="#96FF96" stroke-width="1.2" stroke-linejoin="round"/><path d="M165.0,358.0 169.4,356.2 172.4,360.2 172.7,366.9 165.7,369.8 163.5,365.1 163.5,360.9Z" fill="#DAFFC8" stroke="#DAFFC8" stroke-width="1.2" stroke-linejoin="round"/><path d="M108.7,357.2 112.4,354.3 116.9,356.5 118.3,362.4 116.9,365.1 107.2,365.1Z" fill="#DAFFC8" stroke="#DAFFC8" stroke-width="1.2" stroke-linejoin="round"/><path d="M242.3,338.4 241.8,339.7 240.6,340.2 239.3,339.7 238.8,338.4 239.3,337.2 240.6,336.6 241.8,337.2Z" fill="#DAFFC8" stroke="#DAFFC8" stroke-width="1.2" stroke-linejoin="round"/><path d="M85.0,320.9 87.2,319.4 88.7,322.4 86.5,324.6 85.0,324.6Z" fill="#DAFFC8" stroke="#DAFFC8" stroke-width="1.2" stroke-linejoin="round"/><path d="M108.7,357.2 112.4,355.0 116.9,357.2 118.3,362.4 116.9,367.6 114.6,373.5 113.1,379.4 109.4,383.9 105.0,383.1 103.5,378.7 105.7,372.0 107.2,364.6Z" fill="#DAFFC8" stroke="#DAFFC8" stroke-width="1.2" stroke-linejoin="round"/><path d="M93.1,366.9 97.6,363.9 102.0,365.4 102.8,370.6 99.8,374.3 95.4,373.5 93.1,370.6Z" fill="#DAFFC8" stroke="#DAFFC8" stroke-width="1.2" stroke-linejoin="round"/><path d="M101.1,370.1 100.6,371.4 99.4,371.9 98.1,371.4 97.6,370.1 98.1,368.9 99.4,368.3 100.6,368.9Z" fill="#96FF96" stroke="#96FF96" stroke-width="1.2" stroke-linejoin="round"/><path d="M96.9,388.3 101.3,386.1 105.0,388.3 105.0,392.0 101.3,394.3 97.6,392.8Z" fill="#DAFFC8" stroke="#DAFFC8" stroke-width="1.2" stroke-linejoin="round"/><path d="M163.5,359.4 168.0,356.5 172.4,359.4 173.9,365.4 171.7,369.8 167.2,370.6 164.3,366.9 162.8,362.4Z" fill="#DAFFC8" stroke="#DAFFC8" stroke-width="1.2" stroke-linejoin="round"/><path d="M221.3,407.6 225.0,402.4 230.9,398.7 236.1,400.2 239.1,405.4 238.3,410.6 234.6,413.2 222.8,413.2Z" fill="#DAFFC8" stroke="#DAFFC8" stroke-width="1.2" stroke-linejoin="round"/><path d="M404.2,398.2 410.8,395.3 420.3,393.0 426.2,390.6 432.1,394.6 441.6,394.6 448.2,393.4 451.1,399.3 449.2,407.6 441.6,412.4 406.1,413.6 404.2,405.3Z" fill="#DAFFC8" stroke="#DAFFC8" stroke-width="1.2" stroke-linejoin="round"/></g>
<path d="M149.50,31.5V414.1M212.75,31.5V414.1M276.50,31.5V414.1M340.25,31.5V414.1M404.00,31.5V414.1M85.5,94.5H468.5M85.5,158.3H468.5M85.5,222.5H468.5M85.5,286.1H468.5M85.5,349.8H468.5" stroke="#000" stroke-opacity="0.26" stroke-width="1" fill="none"/>
<use href="#cst" x="-470"/>
</g>
<rect x="85.5" y="31.5" width="383" height="382.6" fill="none" stroke="#000" stroke-width="1.1"/>
<text x="276.5" y="25.4" font-size="12" text-anchor="middle" textLength="271.4" lengthAdjust="spacingAndGlyphs">GSMAP_NRT_1HR estimates for 20251212 13</text>
<text x="81.1" y="96.9" font-size="8" text-anchor="end" textLength="19.0" lengthAdjust="spacingAndGlyphs" stroke="#000" stroke-width="0.18">45°N</text>
<text x="81.1" y="160.7" font-size="8" text-anchor="end" textLength="19.0" lengthAdjust="spacingAndGlyphs" stroke="#000" stroke-width="0.18">40°N</text>
<text x="81.1" y="224.9" font-size="8" text-anchor="end" textLength="19.0" lengthAdjust="spacingAndGlyphs" stroke="#000" stroke-width="0.18">35°N</text>
<text x="81.1" y="288.5" font-size="8" text-anchor="end" textLength="19.0" lengthAdjust="spacingAndGlyphs" stroke="#000" stroke-width="0.18">30°N</text>
<text x="81.1" y="352.2" font-size="8" text-anchor="end" textLength="19.0" lengthAdjust="spacingAndGlyphs" stroke="#000" stroke-width="0.18">25°N</text>
<text x="149.9" y="424.8" font-size="8" text-anchor="middle" textLength="23.2" lengthAdjust="spacingAndGlyphs" stroke="#000" stroke-width="0.18">125°E</text>
<text x="213.7" y="424.8" font-size="8" text-anchor="middle" textLength="23.2" lengthAdjust="spacingAndGlyphs" stroke="#000" stroke-width="0.18">130°E</text>
<text x="277.4" y="424.8" font-size="8" text-anchor="middle" textLength="23.2" lengthAdjust="spacingAndGlyphs" stroke="#000" stroke-width="0.18">135°E</text>
<text x="341.1" y="424.8" font-size="8" text-anchor="middle" textLength="23.2" lengthAdjust="spacingAndGlyphs" stroke="#000" stroke-width="0.18">140°E</text>
<text x="404.9" y="424.8" font-size="8" text-anchor="middle" textLength="23.2" lengthAdjust="spacingAndGlyphs" stroke="#000" stroke-width="0.18">145°E</text>
<g clip-path="url(#clR)">
<g clip-path="url(#fR)"><path d="M817.8,89.4 831.1,89.1 834.1,90.9 843.0,94.6 857.8,93.9 863.7,92.4 874.1,92.7 883.0,94.6 891.9,97.6 899.3,104.3 904.4,110.9 905.2,122.0 903.0,130.9 899.3,136.1 893.3,140.6 888.9,142.0 885.9,144.3 881.5,147.2 854.8,148.0 848.9,151.7 845.2,156.9 847.4,160.6 851.9,165.0 854.8,169.4 850.4,150.0 846.7,154.4 847.4,159.6 851.9,163.3 856.3,170.7 857.0,179.6 853.3,188.5 851.9,195.9 844.4,201.9 843.7,209.3 843.0,216.7 840.7,222.6 837.0,228.5 831.1,234.4 823.7,237.4 817.8,240.1 780.0,251.1 774.1,250.4 768.1,257.0 760.7,263.7 753.3,268.9 735.6,269.6 728.1,273.3 725.9,278.5 725.9,285.9 726.3,278.9 725.6,287.0 720.4,293.7 718.9,298.1 711.5,302.6 707.0,307.0 707.0,317.4 702.6,324.8 696.7,328.5 690.7,332.2 683.3,338.1 682.6,350.0 677.4,355.2 672.0,356.1 664.6,361.3 640.9,361.3 638.0,360.6 635.7,369.4 632.0,376.9 626.1,382.0 617.2,383.5 599.4,383.5 592.0,380.6 586.9,375.4 582.4,369.4 580.2,363.5 579.4,354.6 580.2,347.2 582.4,340.6 587.6,335.4 595.0,332.4 605.4,329.4 614.3,330.2 620.2,331.7 624.6,328.0 629.1,325.0 613.7,332.2 619.6,329.3 626.3,324.8 628.5,317.4 633.0,315.9 638.9,310.0 644.8,305.6 645.6,296.7 650.7,292.2 653.7,286.3 659.6,281.9 661.9,275.9 664.1,270.0 663.0,277.0 664.4,269.6 663.0,262.2 657.8,259.3 655.6,248.9 654.8,238.5 656.3,231.1 660.7,226.7 664.4,222.2 670.4,217.8 676.3,214.1 682.2,209.6 686.7,204.9 690.4,200.0 694.8,195.3 720.0,188.8 736.3,187.0 742.2,181.9 751.1,179.6 761.5,176.7 763.0,172.2 768.9,167.8 774.8,164.1 776.3,155.9 777.8,150.0 774.8,163.5 776.3,154.6 779.3,147.2 783.0,141.3 782.2,132.4 783.7,126.5 786.7,119.1 785.9,108.7 791.9,102.8 797.0,97.6 804.4,93.9 810.4,92.4Z" fill="#FFE8BE" stroke="#FFE8BE" stroke-width="1.2" stroke-linejoin="round"/><path d="M817.0,94.6 822.2,93.1 831.1,91.7 837.0,94.2 844.4,95.7 856.3,95.7 863.7,96.1 870.4,99.1 877.0,103.5 874.1,105.7 868.1,107.2 862.2,105.7 856.3,103.5 848.9,99.1 843.0,99.8 845.9,107.2 846.7,113.1 843.0,116.9 840.0,119.8 837.0,124.3 843.0,128.0 848.9,130.9 851.9,133.1 854.8,136.1 852.6,140.6 854.8,144.3 852.6,148.0 848.9,150.9 844.4,154.6 840.0,154.6 834.1,152.4 829.6,151.7 825.2,154.6 822.2,159.1 820.7,165.0 819.3,175.1 785.2,175.1 789.6,168.0 797.0,159.1 801.5,150.2 798.5,144.3 796.3,136.9 797.0,128.0 801.5,123.5 805.9,117.6 808.9,108.7 805.9,105.7 808.9,101.3 814.8,98.3Z" fill="#DAFFC8" stroke="#DAFFC8" stroke-width="1.2" stroke-linejoin="round"/><path d="M868.1,139.8 872.6,135.4 878.5,129.4 883.0,128.0 887.4,130.9 891.9,135.4 893.3,139.8 888.9,142.0 885.9,144.3 881.5,147.2 872.6,147.2 868.9,143.5Z" fill="#DAFFC8" stroke="#DAFFC8" stroke-width="1.2" stroke-linejoin="round"/><path d="M791.1,150.0 785.9,158.9 783.7,166.3 776.3,175.2 774.1,181.1 764.4,187.0 753.3,191.5 750.4,198.9 751.1,206.3 746.7,212.2 742.2,215.9 743.7,219.6 757.0,221.1 760.0,215.2 758.5,210.7 763.0,206.3 768.9,201.9 778.5,200.4 785.2,202.6 792.6,204.1 800.0,201.9 807.4,198.9 810.4,193.0 817.8,187.0 822.2,179.6 826.7,173.7 829.6,166.3 823.7,160.4 819.3,157.4 826.7,153.0 829.6,150.0Z" fill="#DAFFC8" stroke="#DAFFC8" stroke-width="1.2" stroke-linejoin="round"/><path d="M828.9,150.0 850.4,150.0 846.7,154.4 838.5,155.9 832.6,154.4Z" fill="#DAFFC8" stroke="#DAFFC8" stroke-width="1.2" stroke-linejoin="round"/><path d="M832.6,190.0 837.0,185.6 844.4,184.8 849.6,188.5 850.4,194.4 845.9,199.6 840.0,201.9 834.8,198.9 831.9,194.4Z" fill="#DAFFC8" stroke="#DAFFC8" stroke-width="1.2" stroke-linejoin="round"/><path d="M789.6,233.0 794.1,230.7 800.0,233.7 801.5,240.1 789.6,240.1Z" fill="#DAFFC8" stroke="#DAFFC8" stroke-width="1.2" stroke-linejoin="round"/><path d="M800.7,166.3 803.0,164.8 805.2,168.5 808.9,167.8 810.7,172.2 808.9,177.4 805.2,179.6 807.4,183.3 805.9,186.3 800.7,187.0 797.0,184.8 794.1,181.9 797.0,178.9 800.7,176.7 800.0,172.2 802.2,170.0Z" fill="#96FF96" stroke="#96FF96" stroke-width="1.2" stroke-linejoin="round"/><path d="M811.9,167.0 816.3,165.6 820.7,168.5 818.5,173.0 816.3,176.7 813.6,175.2 812.6,171.5Z" fill="#96FF96" stroke="#96FF96" stroke-width="1.2" stroke-linejoin="round"/><path d="M816.6,169.3 816.2,170.3 815.1,170.7 814.1,170.3 813.6,169.3 814.1,168.2 815.1,167.8 816.2,168.2Z" fill="#64FFFF" stroke="#64FFFF" stroke-width="1.2" stroke-linejoin="round"/><path d="M795.9,192.2 795.3,193.5 794.1,194.0 792.8,193.5 792.3,192.2 792.8,191.0 794.1,190.4 795.3,191.0Z" fill="#96FF96" stroke="#96FF96" stroke-width="1.2" stroke-linejoin="round"/><path d="M683.7,225.9 688.1,225.2 688.9,228.9 684.4,229.6Z" fill="#DAFFC8" stroke="#DAFFC8" stroke-width="1.2" stroke-linejoin="round"/><path d="M748.9,200.0 768.1,200.0 762.2,207.4 757.8,210.4 759.3,214.8 753.3,219.3 747.4,220.7 743.0,217.8 745.9,211.9 750.4,205.9Z" fill="#DAFFC8" stroke="#DAFFC8" stroke-width="1.2" stroke-linejoin="round"/><path d="M668.9,266.7 672.6,265.2 674.1,268.9 670.4,270.8Z" fill="#DAFFC8" stroke="#DAFFC8" stroke-width="1.2" stroke-linejoin="round"/><path d="M662.2,277.0 665.9,275.6 667.4,280.0 664.4,283.0 661.5,280.7Z" fill="#DAFFC8" stroke="#DAFFC8" stroke-width="1.2" stroke-linejoin="round"/><path d="M683.7,280.0 691.1,274.1 698.5,272.6 705.9,269.6 711.9,265.2 714.8,260.7 717.8,261.5 716.3,266.7 711.9,272.6 707.4,277.0 703.0,281.5 697.0,285.9 691.1,290.1 682.2,290.1Z" fill="#DAFFC8" stroke="#DAFFC8" stroke-width="1.2" stroke-linejoin="round"/><path d="M700.7,277.0 707.4,274.1 705.9,276.3 702.2,278.5Z" fill="#96FF96" stroke="#96FF96" stroke-width="1.2" stroke-linejoin="round"/><path d="M661.1,277.4 664.1,275.9 667.0,280.4 664.1,284.8 661.1,283.3Z" fill="#DAFFC8" stroke="#DAFFC8" stroke-width="1.2" stroke-linejoin="round"/><path d="M648.5,297.4 655.2,292.2 659.6,293.7 662.6,301.1 660.4,309.3 655.2,314.4 649.3,318.9 644.8,321.9 644.1,315.9 647.0,308.5 646.3,301.9Z" fill="#DAFFC8" stroke="#DAFFC8" stroke-width="1.2" stroke-linejoin="round"/><path d="M682.6,290.7 687.8,288.5 693.7,290.7 699.6,295.2 707.0,299.6 708.5,305.6 707.0,317.4 702.6,324.8 696.7,328.5 690.7,332.2 683.3,338.1 682.6,350.0 677.4,355.2 673.0,360.1 640.4,360.1 641.9,354.4 649.3,352.2 655.2,350.0 652.2,344.8 647.0,343.3 641.1,341.1 644.8,335.2 650.7,330.7 655.2,324.8 659.6,318.9 665.6,315.9 673.0,313.0 678.9,311.5 684.8,308.5 688.5,304.1 686.3,298.1 683.3,294.4Z" fill="#DAFFC8" stroke="#DAFFC8" stroke-width="1.2" stroke-linejoin="round"/><path d="M590.0,339.6 595.9,335.2 603.3,332.2 610.7,333.7 613.7,339.6 615.9,344.8 621.9,341.1 628.5,344.1 634.4,347.0 631.5,350.7 624.1,353.0 618.1,355.9 616.7,360.1 590.0,360.1Z" fill="#DAFFC8" stroke="#DAFFC8" stroke-width="1.2" stroke-linejoin="round"/><path d="M702.6,274.4 708.5,273.7 707.0,277.4 701.9,278.1Z" fill="#DAFFC8" stroke="#DAFFC8" stroke-width="1.2" stroke-linejoin="round"/><path d="M683.3,290.0 687.8,290.7 687.0,293.0 683.3,292.2Z" fill="#96FF96" stroke="#96FF96" stroke-width="1.2" stroke-linejoin="round"/><path d="M664.1,324.8 670.0,323.3 675.9,324.8 674.4,329.3 670.7,335.2 665.6,335.2 663.3,330.7Z" fill="#96FF96" stroke="#96FF96" stroke-width="1.2" stroke-linejoin="round"/><path d="M660.2,341.9 659.6,343.3 658.1,343.9 656.7,343.3 656.1,341.9 656.7,340.4 658.1,339.8 659.6,340.4Z" fill="#96FF96" stroke="#96FF96" stroke-width="1.2" stroke-linejoin="round"/><path d="M684.8,321.9 690.7,321.1 691.5,323.3 685.6,324.1Z" fill="#96FF96" stroke="#96FF96" stroke-width="1.2" stroke-linejoin="round"/><path d="M697.4,317.4 703.3,317.1 703.8,321.1 698.1,321.6Z" fill="#96FF96" stroke="#96FF96" stroke-width="1.2" stroke-linejoin="round"/><path d="M594.4,346.3 600.4,346.3 601.9,349.3 595.2,350.0Z" fill="#96FF96" stroke="#96FF96" stroke-width="1.2" stroke-linejoin="round"/><path d="M621.9,347.0 630.0,347.8 630.0,350.7 622.6,350.7Z" fill="#96FF96" stroke="#96FF96" stroke-width="1.2" stroke-linejoin="round"/><path d="M662.6,313.0 662.2,314.0 661.1,314.4 660.1,314.0 659.6,313.0 660.1,311.9 661.1,311.5 662.2,311.9Z" fill="#96FF96" stroke="#96FF96" stroke-width="1.2" stroke-linejoin="round"/><path d="M657.9,304.1 657.3,306.5 656.0,308.0 654.4,308.0 653.0,306.5 652.5,304.1 653.0,301.6 654.4,300.1 656.0,300.1 657.3,301.6Z" fill="#64FFFF" stroke="#64FFFF" stroke-width="1.2" stroke-linejoin="round"/><path d="M670.4,332.2 669.9,334.7 668.6,336.2 667.0,336.2 665.6,334.7 665.1,332.2 665.6,329.8 667.0,328.3 668.6,328.3 669.9,329.8Z" fill="#64FFFF" stroke="#64FFFF" stroke-width="1.2" stroke-linejoin="round"/><path d="M675.9,325.6 675.3,327.1 673.7,327.8 672.1,327.1 671.5,325.6 672.1,324.0 673.7,323.3 675.3,324.0Z" fill="#64FFFF" stroke="#64FFFF" stroke-width="1.2" stroke-linejoin="round"/><path d="M698.1,313.0 697.4,314.3 695.6,315.1 693.3,315.1 691.4,314.3 690.7,313.0 691.4,311.7 693.3,310.8 695.6,310.8 697.4,311.7Z" fill="#64FFFF" stroke="#64FFFF" stroke-width="1.2" stroke-linejoin="round"/><path d="M703.3,318.9 702.9,319.9 701.8,320.6 700.4,320.6 699.3,319.9 698.9,318.9 699.3,317.8 700.4,317.2 701.8,317.2 702.9,317.8Z" fill="#64FFFF" stroke="#64FFFF" stroke-width="1.2" stroke-linejoin="round"/><path d="M707.3,310.0 706.8,311.3 705.6,311.8 704.3,311.3 703.8,310.0 704.3,308.7 705.6,308.2 706.8,308.7Z" fill="#64FFFF" stroke="#64FFFF" stroke-width="1.2" stroke-linejoin="round"/><path d="M630.7,351.2 630.0,352.2 628.2,352.9 625.9,352.9 624.0,352.2 623.3,351.2 624.0,350.1 625.9,349.5 628.2,349.5 630.0,350.1Z" fill="#64FFFF" stroke="#64FFFF" stroke-width="1.2" stroke-linejoin="round"/><path d="M637.7,358.1 637.2,359.4 635.9,359.9 634.7,359.4 634.1,358.1 634.7,356.9 635.9,356.4 637.2,356.9Z" fill="#64FFFF" stroke="#64FFFF" stroke-width="1.2" stroke-linejoin="round"/><path d="M584.6,350.2 590.6,345.7 599.4,342.8 603.9,339.1 609.8,338.3 612.0,344.3 611.3,348.7 620.2,347.2 626.1,341.3 632.0,338.3 638.0,335.4 645.4,333.9 651.3,336.9 658.7,332.4 663.1,325.0 697.2,325.0 691.3,330.9 685.4,336.9 682.4,344.3 678.0,350.2 672.0,354.6 661.7,350.2 657.2,350.9 649.8,353.1 642.4,354.6 638.0,359.1 635.7,369.4 632.0,376.9 626.1,382.0 618.7,381.3 617.2,375.4 621.7,369.4 624.6,362.0 620.2,360.6 614.3,368.0 608.3,369.4 603.9,372.4 598.0,376.9 592.0,378.3 586.9,374.6 582.4,368.7 580.5,362.0 580.2,354.6Z" fill="#DAFFC8" stroke="#DAFFC8" stroke-width="1.2" stroke-linejoin="round"/><path d="M593.5,347.2 600.9,346.5 602.4,349.4 594.3,350.2Z" fill="#96FF96" stroke="#96FF96" stroke-width="1.2" stroke-linejoin="round"/><path d="M600.2,341.0 603.1,341.0 603.1,342.8 600.2,342.8Z" fill="#96FF96" stroke="#96FF96" stroke-width="1.2" stroke-linejoin="round"/><path d="M615.6,367.2 615.0,368.7 613.5,369.3 612.1,368.7 611.4,367.2 612.1,365.8 613.5,365.1 615.0,365.8Z" fill="#96FF96" stroke="#96FF96" stroke-width="1.2" stroke-linejoin="round"/><path d="M624.9,364.3 624.4,365.5 623.1,366.0 621.9,365.5 621.4,364.3 621.9,363.0 623.1,362.5 624.4,363.0Z" fill="#96FF96" stroke="#96FF96" stroke-width="1.2" stroke-linejoin="round"/><path d="M617.5,356.9 617.2,358.6 616.5,359.7 615.6,359.7 614.8,358.6 614.6,356.9 614.8,355.1 615.6,354.0 616.5,354.0 617.2,355.1Z" fill="#96FF96" stroke="#96FF96" stroke-width="1.2" stroke-linejoin="round"/><path d="M660.3,341.7 659.7,343.2 658.3,343.8 656.8,343.2 656.2,341.7 656.8,340.3 658.3,339.7 659.7,340.3Z" fill="#96FF96" stroke="#96FF96" stroke-width="1.2" stroke-linejoin="round"/><path d="M666.1,328.0 672.0,325.0 673.5,329.4 669.1,332.4Z" fill="#96FF96" stroke="#96FF96" stroke-width="1.2" stroke-linejoin="round"/><path d="M584.3,360.6 583.6,362.4 581.7,363.2 579.8,362.4 579.0,360.6 579.8,358.7 581.7,357.9 583.6,358.7Z" fill="#64FFFF" stroke="#64FFFF" stroke-width="1.2" stroke-linejoin="round"/><path d="M630.9,351.7 630.1,352.9 628.3,353.6 626.0,353.6 624.2,352.9 623.4,351.7 624.2,350.4 626.0,349.7 628.3,349.7 630.1,350.4Z" fill="#64FFFF" stroke="#64FFFF" stroke-width="1.2" stroke-linejoin="round"/><path d="M637.2,362.0 636.9,364.6 636.2,366.3 635.3,366.3 634.5,364.6 634.3,362.0 634.5,359.4 635.3,357.8 636.2,357.8 636.9,359.4Z" fill="#64FFFF" stroke="#64FFFF" stroke-width="1.2" stroke-linejoin="round"/><path d="M670.9,333.1 670.5,334.9 669.4,336.0 668.1,336.0 667.1,334.9 666.7,333.1 667.1,331.4 668.1,330.3 669.4,330.3 670.5,331.4Z" fill="#64FFFF" stroke="#64FFFF" stroke-width="1.2" stroke-linejoin="round"/><path d="M676.0,326.2 675.5,327.4 674.3,328.0 673.0,327.4 672.5,326.2 673.0,324.9 674.3,324.4 675.5,324.9Z" fill="#64FFFF" stroke="#64FFFF" stroke-width="1.2" stroke-linejoin="round"/></g>
<path d="M618.50,31.5V414.1M682.75,31.5V414.1M746.50,31.5V414.1M810.25,31.5V414.1M874.00,31.5V414.1M555.5,94.5H938.5M555.5,158.3H938.5M555.5,222.5H938.5M555.5,286.1H938.5M555.5,349.8H938.5" stroke="#000" stroke-opacity="0.26" stroke-width="1" fill="none"/>
<use href="#cst"/>
</g>
<text x="561.5" y="406.6" font-size="10">Provided by JWA/JMA</text>
<rect x="555.5" y="31.5" width="383" height="382.6" fill="none" stroke="#000" stroke-width="1.1"/>
<text x="745.9" y="25.4" font-size="12" text-anchor="middle" textLength="290.6" lengthAdjust="spacingAndGlyphs">Hourly Radar-AMeDAS analysis for 20251212 13</text>
<text x="551.1" y="96.9" font-size="8" text-anchor="end" textLength="19.0" lengthAdjust="spacingAndGlyphs" stroke="#000" stroke-width="0.18">45°N</text>
<text x="551.1" y="160.7" font-size="8" text-anchor="end" textLength="19.0" lengthAdjust="spacingAndGlyphs" stroke="#000" stroke-width="0.18">40°N</text>
<text x="551.1" y="224.9" font-size="8" text-anchor="end" textLength="19.0" lengthAdjust="spacingAndGlyphs" stroke="#000" stroke-width="0.18">35°N</text>
<text x="551.1" y="288.5" font-size="8" text-anchor="end" textLength="19.0" lengthAdjust="spacingAndGlyphs" stroke="#000" stroke-width="0.18">30°N</text>
<text x="551.1" y="352.2" font-size="8" text-anchor="end" textLength="19.0" lengthAdjust="spacingAndGlyphs" stroke="#000" stroke-width="0.18">25°N</text>
<text x="619.9" y="424.8" font-size="8" text-anchor="middle" textLength="23.2" lengthAdjust="spacingAndGlyphs" stroke="#000" stroke-width="0.18">125°E</text>
<text x="683.6" y="424.8" font-size="8" text-anchor="middle" textLength="23.2" lengthAdjust="spacingAndGlyphs" stroke="#000" stroke-width="0.18">130°E</text>
<text x="747.4" y="424.8" font-size="8" text-anchor="middle" textLength="23.2" lengthAdjust="spacingAndGlyphs" stroke="#000" stroke-width="0.18">135°E</text>
<text x="811.1" y="424.8" font-size="8" text-anchor="middle" textLength="23.2" lengthAdjust="spacingAndGlyphs" stroke="#000" stroke-width="0.18">140°E</text>
<text x="874.9" y="424.8" font-size="8" text-anchor="middle" textLength="23.2" lengthAdjust="spacingAndGlyphs" stroke="#000" stroke-width="0.18">145°E</text>
<rect x="810.5" y="271.5" width="105.0" height="104.0" fill="#fff"/>
<clipPath id="clI"><rect x="810.5" y="271.5" width="105.0" height="104.0"/></clipPath>
<path d="M810.5,375.5L915.5,271.5" stroke="#000" stroke-width="1.2"/>
<path clip-path="url(#clI)" d="M810.5,365.2L813.5,367.4L817.0,370.0L821.0,372.8L824.1,375.5H810.5Z" fill="#000"/>
<path clip-path="url(#clI)" d="M821.2,372.3h4.4M823.4,370.1v4.4M826.0,372.7h4.4M828.2,370.5v4.4M817.8,370.2h4.4M820.0,368.0v4.4M814.8,367.6h4.4M817.0,365.4v4.4M811.8,365.8h4.4M814.0,363.6v4.4M823.4,374.2h4.4M825.6,372.0v4.4M829.3,374.6h4.4M831.5,372.4v4.4M809.8,364.4h4.4M812.0,362.2v4.4" stroke="#000" stroke-width="0.9" fill="none"/>
<rect x="810.5" y="271.5" width="105.0" height="104.0" fill="none" stroke="#000" stroke-width="1"/>
<text transform="translate(810.5,388.6) scale(0.9,1)" font-size="8" text-anchor="middle" stroke="#000" stroke-width="0.18">0</text>
<text transform="translate(803.5,378.0) scale(0.9,1)" font-size="8" text-anchor="end" stroke="#000" stroke-width="0.18">0</text>
<text transform="translate(831.5,388.6) scale(0.9,1)" font-size="8" text-anchor="middle" stroke="#000" stroke-width="0.18">2</text>
<text transform="translate(803.5,357.2) scale(0.9,1)" font-size="8" text-anchor="end" stroke="#000" stroke-width="0.18">2</text>
<text transform="translate(852.5,388.6) scale(0.9,1)" font-size="8" text-anchor="middle" stroke="#000" stroke-width="0.18">4</text>
<text transform="translate(803.5,336.4) scale(0.9,1)" font-size="8" text-anchor="end" stroke="#000" stroke-width="0.18">4</text>
<text transform="translate(873.5,388.6) scale(0.9,1)" font-size="8" text-anchor="middle" stroke="#000" stroke-width="0.18">6</text>
<text transform="translate(803.5,315.6) scale(0.9,1)" font-size="8" text-anchor="end" stroke="#000" stroke-width="0.18">6</text>
<text transform="translate(894.5,388.6) scale(0.9,1)" font-size="8" text-anchor="middle" stroke="#000" stroke-width="0.18">8</text>
<text transform="translate(803.5,294.8) scale(0.9,1)" font-size="8" text-anchor="end" stroke="#000" stroke-width="0.18">8</text>
<text transform="translate(915.5,388.6) scale(0.9,1)" font-size="8" text-anchor="middle" stroke="#000" stroke-width="0.18">10</text>
<text transform="translate(803.5,274.0) scale(0.9,1)" font-size="8" text-anchor="end" stroke="#000" stroke-width="0.18">10</text>
<path d="M810.5,375.5v3.5M810.5,375.5h-3.5M831.5,375.5v3.5M810.5,354.7h-3.5M852.5,375.5v3.5M810.5,333.9h-3.5M873.5,375.5v3.5M810.5,313.1h-3.5M894.5,375.5v3.5M810.5,292.3h-3.5M915.5,375.5v3.5M810.5,271.5h-3.5" stroke="#000" stroke-width="0.9" fill="none"/>
<path d="M815.8,375.5v2M810.5,370.3h-2M821.0,375.5v2M810.5,365.1h-2M826.2,375.5v2M810.5,359.9h-2M836.8,375.5v2M810.5,349.5h-2M842.0,375.5v2M810.5,344.3h-2M847.2,375.5v2M810.5,339.1h-2M857.8,375.5v2M810.5,328.7h-2M863.0,375.5v2M810.5,323.5h-2M868.2,375.5v2M810.5,318.3h-2M878.8,375.5v2M810.5,307.9h-2M884.0,375.5v2M810.5,302.7h-2M889.2,375.5v2M810.5,297.5h-2M899.8,375.5v2M810.5,287.1h-2M905.0,375.5v2M810.5,281.9h-2M910.2,375.5v2M810.5,276.7h-2" stroke="#000" stroke-width="0.7" fill="none"/>
<text x="862.5" y="398.8" font-size="10" text-anchor="middle">ANALYSIS</text>
<text transform="translate(791.3,323.9) rotate(-90)" font-size="10" text-anchor="middle" textLength="84.6" lengthAdjust="spacingAndGlyphs">GSMAP_NRT_1HR</text>
<rect x="972.0" y="49.00" width="21.8" height="36.77" fill="#D19E40"/>
<rect x="972.0" y="85.47" width="21.8" height="36.77" fill="#FF00FF"/>
<rect x="972.0" y="121.94" width="21.8" height="36.77" fill="#DC64FF"/>
<rect x="972.0" y="158.41" width="21.8" height="36.77" fill="#9664FF"/>
<rect x="972.0" y="194.88" width="21.8" height="36.77" fill="#0064FF"/>
<rect x="972.0" y="231.35" width="21.8" height="36.77" fill="#00C8FF"/>
<rect x="972.0" y="267.82" width="21.8" height="36.77" fill="#64FFFF"/>
<rect x="972.0" y="304.29" width="21.8" height="36.77" fill="#96FF96"/>
<rect x="972.0" y="340.76" width="21.8" height="36.77" fill="#DAFFC8"/>
<rect x="972.0" y="377.23" width="21.8" height="36.77" fill="#FFE8BE"/>
<path d="M972.0,49.0L982.9,30.4L993.8,49.0Z" fill="#000"/>
<path d="M972.0,49.0L982.9,30.4L993.8,49.0V413.7H972.0Z" fill="none" stroke="#000" stroke-width="0.9"/>
<text transform="translate(1001.4,53.8) scale(0.875,1)" font-size="12">50</text>
<text transform="translate(1001.4,90.3) scale(0.875,1)" font-size="12">25</text>
<text transform="translate(1001.4,126.8) scale(0.875,1)" font-size="12">10</text>
<text transform="translate(1001.4,163.3) scale(0.875,1)" font-size="12">5</text>
<text transform="translate(1001.4,199.8) scale(0.875,1)" font-size="12">4</text>
<text transform="translate(1001.4,236.3) scale(0.875,1)" font-size="12">3</text>
<text transform="translate(1001.4,272.8) scale(0.875,1)" font-size="12">2</text>
<text transform="translate(1001.4,309.3) scale(0.875,1)" font-size="12">1</text>
<text transform="translate(1001.4,345.8) scale(0.875,1)" font-size="12">0.5</text>
<text transform="translate(1001.4,382.3) scale(0.875,1)" font-size="12">0.01</text>
<text transform="translate(1001.4,418.8) scale(0.875,1)" font-size="12">0</text>
<path d="M994.0,49.40h3.9M994.0,85.90h3.9M994.0,122.40h3.9M994.0,158.90h3.9M994.0,195.40h3.9M994.0,231.90h3.9M994.0,268.40h3.9M994.0,304.90h3.9M994.0,341.40h3.9M994.0,377.90h3.9M994.0,414.40h3.9" stroke="#000" stroke-width="0.9"/>
<text x="140.3" y="446.6" font-size="10" text-anchor="middle">Hourly fraction by occurence</text>
<rect x="74.3" y="452.2" width="124.40" height="18.00" fill="#FFE8BE" stroke="#000" stroke-width="0.55"/>
<rect x="198.7" y="452.2" width="7.50" height="18.00" fill="#DAFFC8" stroke="#000" stroke-width="0.55"/>
<rect x="206.2" y="452.2" width="0.70" height="18.00" fill="#96FF96" stroke="#000" stroke-width="0.55"/>
<rect x="74.3" y="479.2" width="97.10" height="18.20" fill="#FFE8BE" stroke="#000" stroke-width="0.55"/>
<rect x="171.4" y="479.2" width="32.60" height="18.20" fill="#DAFFC8" stroke="#000" stroke-width="0.55"/>
<rect x="204.0" y="479.2" width="2.30" height="18.20" fill="#96FF96" stroke="#000" stroke-width="0.55"/>
<rect x="206.3" y="479.2" width="0.60" height="18.20" fill="#64FFFF" stroke="#000" stroke-width="0.55"/>
<path d="M198.7,470.2L171.4,479.2M206.2,470.2L204,479.2M206.9,470.2L206.3,479.2" stroke="#222" stroke-width="0.6" fill="none"/>
<path d="M74.3,452.2V497.4" stroke="#444" stroke-width="0.8"/><path d="M207.1,452.2V497.4" stroke="#000" stroke-width="1.5"/>
<text x="47.2" y="465.6" font-size="10">Est</text><text x="47.7" y="492.8" font-size="10">Obs</text>
<text x="58.3" y="509.6" font-size="10">0%</text><text x="135.5" y="509.6" font-size="10" text-anchor="middle">Areal fraction</text><text x="195.2" y="509.6" font-size="10">100%</text>
<text x="139.8" y="527.7" font-size="10" text-anchor="middle">Hourly fraction of total rain</text>
<rect x="74.3" y="533.5" width="2.10" height="17.50" fill="#FFE8BE" stroke="#000" stroke-width="0.55"/>
<rect x="76.4" y="533.5" width="15.90" height="17.50" fill="#DAFFC8" stroke="#000" stroke-width="0.55"/>
<rect x="92.3" y="533.5" width="1.90" height="17.50" fill="#96FF96" stroke="#000" stroke-width="0.55"/>
<rect x="74.3" y="560.2" width="2.10" height="18.30" fill="#FFE8BE" stroke="#000" stroke-width="0.55"/>
<rect x="76.4" y="560.2" width="89.90" height="18.30" fill="#DAFFC8" stroke="#000" stroke-width="0.55"/>
<rect x="166.3" y="560.2" width="28.20" height="18.30" fill="#96FF96" stroke="#000" stroke-width="0.55"/>
<rect x="194.5" y="560.2" width="13.00" height="18.30" fill="#64FFFF" stroke="#000" stroke-width="0.55"/>
<path d="M76.4,551L76.4,560.2M92.3,551L166.3,560.2M94.2,551L194.5,560.2" stroke="#222" stroke-width="0.6" fill="none"/>
<path d="M94.2,551L207.5,560.2" stroke="#000" stroke-width="1.6" fill="none"/>
<path d="M74.3,533.5V578.5M207.5,560.2V578.5" stroke="#000" stroke-width="0.8"/>
<text x="47.2" y="546.5" font-size="10">Est</text><text x="47.7" y="573.8" font-size="10">Obs</text>
<text x="140.8" y="589.6" font-size="10" text-anchor="middle">Rainfall accumulation by amount</text>
<text x="338.8" y="455.3" font-size="10" text-anchor="middle">GSMAP_NRT_1HR</text>
<text x="308.4" y="470.2" font-size="10" text-anchor="middle">&lt;0.01</text><text x="370" y="470.2" font-size="10" text-anchor="middle">≥0.01</text>
<path d="M277.6,478.4H401.4V573.5H277.6ZM339.4,478.4V573.5M277.6,526.4H401.4" stroke="#000" stroke-width="1" fill="none"/>
<text x="275" y="506.2" font-size="10" text-anchor="end">&lt;0.01</text><text x="275" y="553.3" font-size="10" text-anchor="end">≥0.01</text>
<text transform="translate(246.6,520.5) rotate(-90)" font-size="10" text-anchor="middle">ANALYSIS</text>
<text x="308.4" y="506.2" font-size="10" text-anchor="middle">3040</text><text x="370.6" y="506.2" font-size="10" text-anchor="middle">0</text>
<text x="308.4" y="553.3" font-size="10" text-anchor="middle">13</text><text x="370.6" y="553.3" font-size="10" text-anchor="middle">0</text>
<text x="460.3" y="453.6" font-size="10" textLength="394.3" lengthAdjust="spacingAndGlyphs">Validation statistics for 20251212 13  n=3053 Valid. grid=0.25° Units=mm/hr.</text>
<path d="M457.3,457.3H996.4" stroke="#000" stroke-width="1" stroke-dasharray="3.7,1.6"/>
<text x="632.5" y="474.6" font-size="10" text-anchor="middle">ANALYSIS</text><text x="713.5" y="474.6" font-size="10" text-anchor="middle">GSMAP_NRT_1HR</text>
<path d="M457.3,480.4H758" stroke="#000" stroke-width="1" stroke-dasharray="3.7,1.6"/>
<text x="460.3" y="498.8" font-size="10">Num of gridpoints raining</text>
<text x="648" y="498.8" font-size="10" text-anchor="end">13</text><text x="729.5" y="498.8" font-size="10" text-anchor="end">0</text>
<text x="460.3" y="518.8" font-size="10">Average rain</text>
<text x="648" y="518.8" font-size="10" text-anchor="end">0.1</text><text x="729.5" y="518.8" font-size="10" text-anchor="end">0.0</text>
<text x="460.3" y="538.8" font-size="10">Conditional rain</text>
<text x="648" y="538.8" font-size="10" text-anchor="end">14.5</text><text x="729.5" y="538.8" font-size="10" text-anchor="end">-999.0</text>
<text x="461.3" y="559.0" font-size="10">Rain volume (mm km<tspan font-size="7" dy="-3.8">2</tspan><tspan dy="3.8">10</tspan><tspan font-size="7" dy="-3.8">6</tspan><tspan dy="3.8">)</tspan></text>
<text x="648" y="558.4" font-size="10" text-anchor="end">0.1</text><text x="729.5" y="558.4" font-size="10" text-anchor="end">0.0</text>
<text x="460.3" y="578.0" font-size="10">Maximum rain</text>
<text x="648" y="578.0" font-size="10" text-anchor="end">1.9</text><text x="729.5" y="578.0" font-size="10" text-anchor="end">0.7</text>
<text x="784.3" y="472.0" font-size="10" xml:space="preserve">Mean abs error =    0.1</text>
<text x="784.3" y="489.0" font-size="10" xml:space="preserve">RMS error =    0.2</text>
<text x="784.3" y="505.6" font-size="10" xml:space="preserve">Correlation coeff =  0.282</text>
<text x="784.3" y="522.6" font-size="10" xml:space="preserve">Frequency bias =  0.000</text>
<text x="784.3" y="539.5" font-size="10" xml:space="preserve">Probability of detection =  0.000</text>
<text x="784.3" y="556.6" font-size="10" xml:space="preserve">False alarm ratio = -999.000</text>
<text x="784.3" y="573.6" font-size="10" xml:space="preserve">Hanssen &amp; Kuipers score =  0.000</text>
<text x="784.3" y="590.5" font-size="10" xml:space="preserve">Equitable threat score =  0.000</text>
</svg></body></html>
